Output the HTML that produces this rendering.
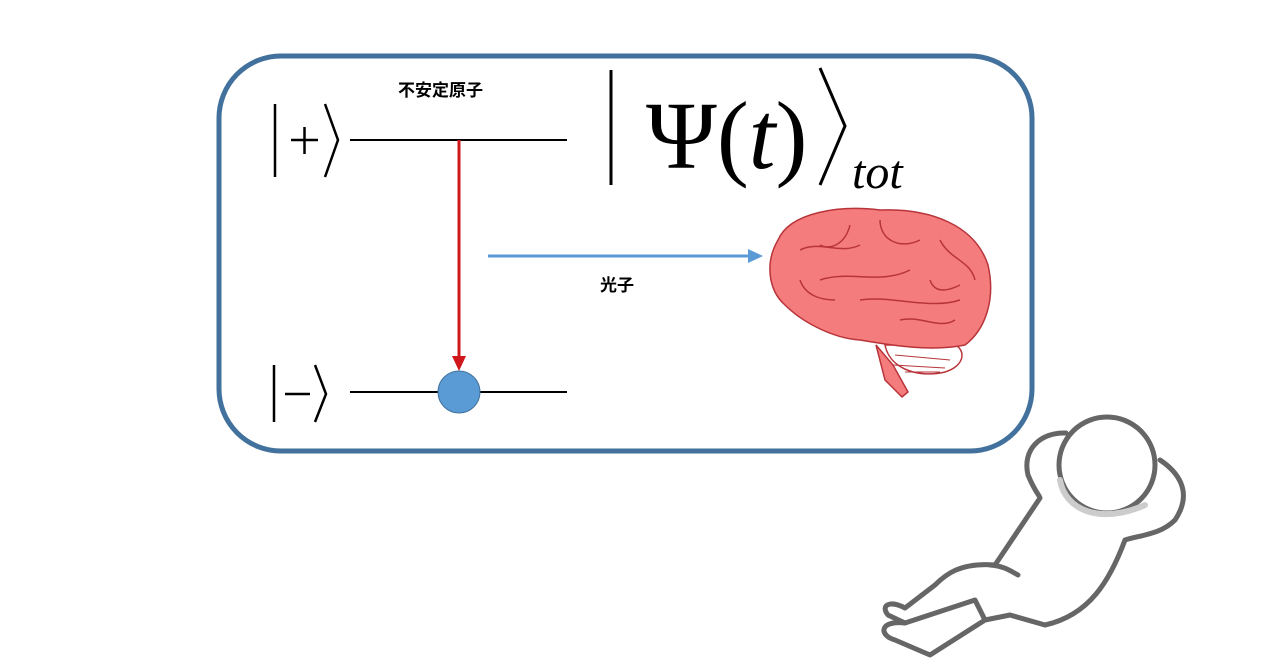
<!DOCTYPE html>
<html><head><meta charset="utf-8"><style>body{margin:0;background:#fff}svg{display:block}</style></head><body>
<svg width="1280" height="670" viewBox="0 0 1280 670" xmlns="http://www.w3.org/2000/svg">
<rect x="219" y="56" width="813" height="395" rx="62" fill="#fff" stroke="#41719c" stroke-width="5"/>
<g stroke="#000" stroke-width="2" fill="none">
<line x1="275" y1="104" x2="275" y2="177" stroke-width="2.5"/>
<line x1="291" y1="140" x2="318" y2="140" stroke-width="2.5"/>
<line x1="304.5" y1="127" x2="304.5" y2="154" stroke-width="2.5"/>
<polyline points="325,104 338,140 325,177" stroke-width="2.5"/>
<line x1="350" y1="140" x2="567" y2="140"/>
<line x1="274" y1="365" x2="274" y2="422" stroke-width="2.5"/>
<line x1="285" y1="394" x2="310" y2="394" stroke-width="2.5"/>
<polyline points="315,365 326,394 315,422" stroke-width="2.5"/>
<line x1="350" y1="392" x2="567" y2="392"/>
<line x1="611" y1="70" x2="611" y2="185" stroke-width="3"/>
<polyline points="820,68 845,126 820,185" stroke-width="3"/>
</g>
<text x="646" y="168" font-family="Liberation Serif,serif" font-size="96">Ψ(<tspan font-style="italic">t</tspan>)</text>
<text x="852" y="188" font-family="Liberation Serif,serif" font-style="italic" font-size="48">tot</text>
<text x="398" y="96" font-family="Liberation Sans,Noto Sans CJK JP,sans-serif" font-size="17" font-weight="bold">不安定原子</text>
<text x="600" y="291" font-family="Liberation Sans,Noto Sans CJK JP,sans-serif" font-size="17" font-weight="bold">光子</text>
<line x1="459" y1="140" x2="459" y2="358" stroke="#d0171b" stroke-width="3"/>
<polygon points="452,356 466,356 459,371" fill="#d0171b"/>
<line x1="488" y1="256" x2="750" y2="256" stroke="#5b9bd5" stroke-width="3"/>
<polygon points="748,249 763,256 748,263" fill="#5b9bd5"/>
<circle cx="459" cy="392" r="21" fill="#5b9bd5" stroke="#41719c" stroke-width="1"/>
<g stroke="#b8343a" stroke-width="1.5">
<path d="M876,345 L885,380 L902,397 L908,392 L893,365 Z" fill="#f47c7c"/>
<path d="M885,345 C890,370 920,378 945,372 C965,366 966,350 955,345 Z" fill="#fff"/>
<path d="M778,240 C790,212 840,205 880,210 C930,208 975,225 988,265 C996,300 985,330 965,345 C930,352 890,345 860,340 C830,338 800,320 785,305 C768,290 765,262 778,240 Z" fill="#f47c7c"/>
<path d="M800,250 C820,240 840,255 860,245 M820,280 C850,270 880,285 910,270 M860,300 C890,295 930,310 960,300 M880,220 C880,240 900,250 920,240 M940,240 C950,260 970,260 975,280 M800,280 C805,295 820,300 835,300 M900,320 C920,315 940,330 955,320 M850,225 C845,245 830,250 820,245 M930,280 C935,295 950,290 960,285" fill="none"/>
<path d="M895,355 L950,360 M893,365 L945,368 M905,372 L940,372" fill="none" stroke-width="1"/>
</g>
<g stroke="#666" stroke-width="5" fill="none" stroke-linecap="round" stroke-linejoin="round">
<path d="M1066,433 C1040,432 1022,450 1028,475 C1035,492 1040,496 1040,498 L995,565 C960,562 945,575 935,585 L905,608 C890,600 880,605 888,615 L905,623 C880,620 878,635 895,640 L930,655 L985,620 L1010,615 L1045,625 C1090,615 1110,580 1125,540 C1140,535 1160,535 1175,520 C1195,490 1175,470 1160,460"/>
<path d="M990,565 C1005,566 1012,572 1018,575"/>
<path d="M905,623 L975,600 L985,620"/>
<circle cx="1107" cy="465" r="48" fill="#fff"/>
<path d="M1060,480 C1065,510 1100,525 1145,505" stroke="#ccc" stroke-width="6"/>
</g>
</svg>
</body></html>
